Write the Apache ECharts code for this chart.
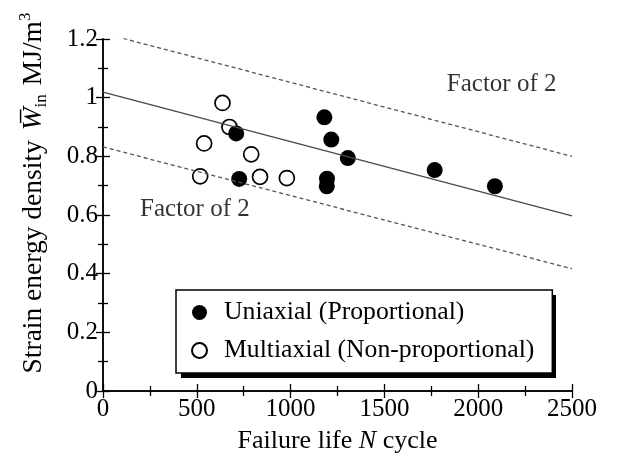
<!DOCTYPE html>
<html>
<head>
<meta charset="utf-8">
<script src="https://cdn.jsdelivr.net/npm/echarts@6/dist/echarts.min.js"></script>
<style>
  html, body { margin: 0; padding: 0; background: #fff; }
  #chart { width: 643px; height: 463px; }
</style>
</head>
<body>
<div id="chart"></div>
<script>
// Failure life N (cycles) and strain energy density (MJ/m^3)
const uniaxialN = [710, 726, 1180, 1217, 1305, 1194, 1193, 1768, 2089];
const uniaxialW = [0.878, 0.723, 0.933, 0.857, 0.794, 0.724, 0.698, 0.753, 0.698];
const multiaxialN = [637, 674, 539, 790, 518, 837, 980];
const multiaxialW = [0.982, 0.900, 0.844, 0.807, 0.732, 0.730, 0.726];

// Fitted line and factor-of-2 bands, given at N = 0 and N = 2500
const bandN = [0, 2500];
const fitW = [1.019, 0.597];
const upperW = [1.22, 0.80];
const lowerW = [0.832, 0.417];

// Band annotations
const bandLabels = ['Factor of 2', 'Factor of 2'];
const bandLabelN = [2125, 490];
const bandLabelW = [1.046, 0.619];

const xTicks = { min: 0, max: 2500, interval: 500 };
const yTicks = { min: 0, max: 1.2, interval: 0.2 };

const FONT = 'Liberation Serif';
const pairs = (xs, ys) => xs.map((x, i) => [x, ys[i]]);

const axisCommon = {
  axisLine: { show: true, lineStyle: { color: '#000', width: 1.5 } },
  axisTick: { show: true, inside: true, length: 7, lineStyle: { color: '#000', width: 1.3 } },
  minorTick: { show: true, splitNumber: 2, length: 5, lineStyle: { color: '#000', width: 1.3 } },
  splitLine: { show: false },
  minorSplitLine: { show: false }
};

const chart = echarts.init(document.getElementById('chart'), null, { renderer: 'canvas' });

chart.setOption({
  animation: false,
  backgroundColor: '#fff',
  grid: { left: 103, right: 71, top: 39, bottom: 72 },
  graphic: [{
    // drop shadow behind the legend box
    type: 'rect', z: 3, silent: true,
    shape: { x: 181, y: 295, width: 375, height: 83 },
    style: { fill: '#000' }
  }],
  xAxis: [
    Object.assign({
      type: 'value', position: 'bottom',
      min: xTicks.min, max: xTicks.max, interval: xTicks.interval,
      axisLabel: { color: '#000', fontFamily: FONT, fontSize: 25, margin: 6, formatter: v => String(v) },
      name: 'Failure life {it|N} cycle',
      nameLocation: 'middle', nameGap: 37,
      nameTextStyle: {
        color: '#000', fontFamily: FONT, fontSize: 26,
        rich: { it: { fontStyle: 'italic', fontFamily: FONT, fontSize: 26, color: '#000' } }
      }
    }, axisCommon),
    Object.assign({
      type: 'value', position: 'top',
      min: xTicks.min, max: xTicks.max, interval: xTicks.interval,
      axisLabel: { show: false }
    }, axisCommon)
  ],
  yAxis: [
    Object.assign({
      type: 'value', position: 'left',
      min: yTicks.min, max: yTicks.max, interval: yTicks.interval,
      axisLabel: { color: '#000', fontFamily: FONT, fontSize: 25, margin: 5, formatter: v => String(v) },
      name: 'Strain energy density {it|W\u0305}{sub|in}{sp|}MJ/m{sup|3}',
      nameLocation: 'middle', nameGap: 53, nameRotate: 90,
      nameTextStyle: {
        color: '#000', fontFamily: FONT, fontSize: 27.5, lineHeight: 33,
        padding: [0, 0, 0, 44],
        rich: {
          it: { fontStyle: 'italic', fontFamily: FONT, fontSize: 27.5, color: '#000', lineHeight: 33, padding: [0, 0, 0, 3] },
          sub: { fontFamily: FONT, fontSize: 17, color: '#000', verticalAlign: 'bottom', lineHeight: 33 },
          sp: { width: 9, lineHeight: 33 },
          sup: { fontFamily: FONT, fontSize: 17, color: '#000', verticalAlign: 'top', lineHeight: 33 }
        }
      }
    }, axisCommon),
    Object.assign({
      type: 'value', position: 'right',
      min: yTicks.min, max: yTicks.max, interval: yTicks.interval,
      axisLabel: { show: false }
    }, axisCommon)
  ],
  legend: {
    show: true,
    orient: 'vertical',
    left: 176, top: 290,
    z: 4,
    data: ['Uniaxial (Proportional)', 'Multiaxial (Non-proportional)'],
    backgroundColor: '#fff',
    borderColor: '#000', borderWidth: 1.5, borderRadius: 0,
    padding: [9, 18, 9, 15],
    itemGap: 11,
    itemWidth: 15, itemHeight: 15,
    icon: 'circle',
    textStyle: { color: '#000', fontFamily: FONT, fontSize: 25.7, lineHeight: 27, padding: [0, 0, 0, 12] }
  },
  series: [
    {
      name: 'fit', type: 'line', data: pairs(bandN, fitW),
      symbol: 'none', silent: true,
      lineStyle: { color: '#4a4a4a', width: 1.4, type: 'solid' }
    },
    {
      name: 'upper', type: 'line', data: pairs(bandN, upperW),
      symbol: 'none', silent: true,
      lineStyle: { color: '#555', width: 1.3, type: [4, 3] }
    },
    {
      name: 'lower', type: 'line', data: pairs(bandN, lowerW),
      symbol: 'none', silent: true,
      lineStyle: { color: '#555', width: 1.3, type: [4, 3] }
    },
    {
      name: 'bandText', type: 'scatter', silent: true,
      data: bandLabelN.map((n, i) => ({ value: [n, bandLabelW[i]], name: bandLabels[i] })),
      symbolSize: 0,
      label: {
        show: true, position: 'inside', formatter: p => p.name,
        color: '#000', fontFamily: FONT, fontSize: 25
      }
    },
    {
      name: 'Multiaxial (Non-proportional)', type: 'scatter',
      data: pairs(multiaxialN, multiaxialW),
      symbol: 'circle', symbolSize: 15,
      itemStyle: { color: '#fff', borderColor: '#000', borderWidth: 1.7, opacity: 1 }
    },
    {
      name: 'Uniaxial (Proportional)', type: 'scatter',
      data: pairs(uniaxialN, uniaxialW),
      symbol: 'circle', symbolSize: 16,
      itemStyle: { color: '#000', borderColor: '#000', borderWidth: 0, opacity: 1 }
    }
  ]
});
</script>
</body>
</html>
